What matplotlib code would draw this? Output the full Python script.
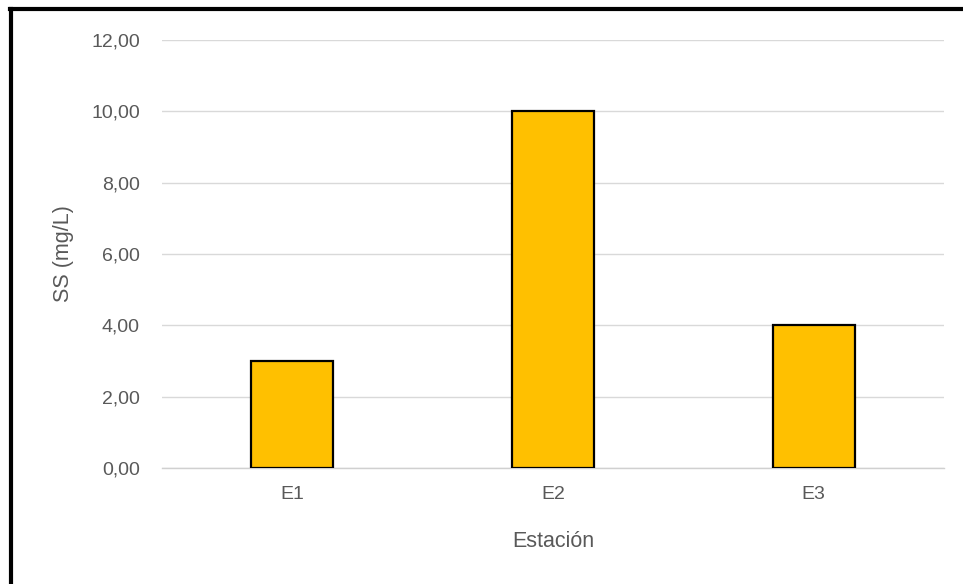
import matplotlib
matplotlib.use('Agg')
import matplotlib.pyplot as plt
from matplotlib.lines import Line2D
from matplotlib.ticker import FuncFormatter

# datos
estaciones = ['E1', 'E2', 'E3']
ss_mg_l = [3.0, 10.0, 4.0]

plt.rcParams['font.family'] = ['Liberation Sans', 'DejaVu Sans']
gris = '#595959'

fig = plt.figure(figsize=(9.63, 5.84), dpi=100)
ax = fig.add_axes([162 / 963, 1 - 468 / 584, (944 - 162) / 963, (468 - 40) / 584])

x = range(len(estaciones))
ax.bar(x, ss_mg_l, width=0.315, color='#FFC000', edgecolor='black', linewidth=1.6, zorder=3)

ax.set_xlim(-0.5, 2.5)
ax.set_ylim(0, 12)
ax.set_yticks([0, 2, 4, 6, 8, 10, 12])
ax.yaxis.set_major_formatter(FuncFormatter(lambda v, p: f'{v:.2f}'.replace('.', ',')))
ax.set_xticks(list(x))
ax.set_xticklabels(estaciones)

ax.grid(axis='y', color='#d9d9d9', linewidth=1.0, zorder=0)
for s in ['top', 'right', 'left']:
    ax.spines[s].set_visible(False)
ax.spines['bottom'].set_color('#d0d0d0')
ax.spines['bottom'].set_linewidth(1.0)
ax.tick_params(axis='both', length=0, colors=gris, labelsize=14)
ax.tick_params(axis='y', pad=16)
ax.tick_params(axis='x', pad=13)

ax.set_ylabel('SS (mg/L)', color=gris, fontsize=15.5, labelpad=12)
ax.set_xlabel('Estación', color=gris, fontsize=15.5, labelpad=20)

# marco negro del gráfico (izquierda y arriba)
fig.add_artist(Line2D([11 / 963, 11 / 963], [0, 1 - 9 / 584], transform=fig.transFigure,
                      color='black', linewidth=3))
fig.add_artist(Line2D([9.5 / 963, 1], [1 - 9 / 584, 1 - 9 / 584], transform=fig.transFigure,
                      color='black', linewidth=3))

fig.savefig('out.png', dpi=100)
